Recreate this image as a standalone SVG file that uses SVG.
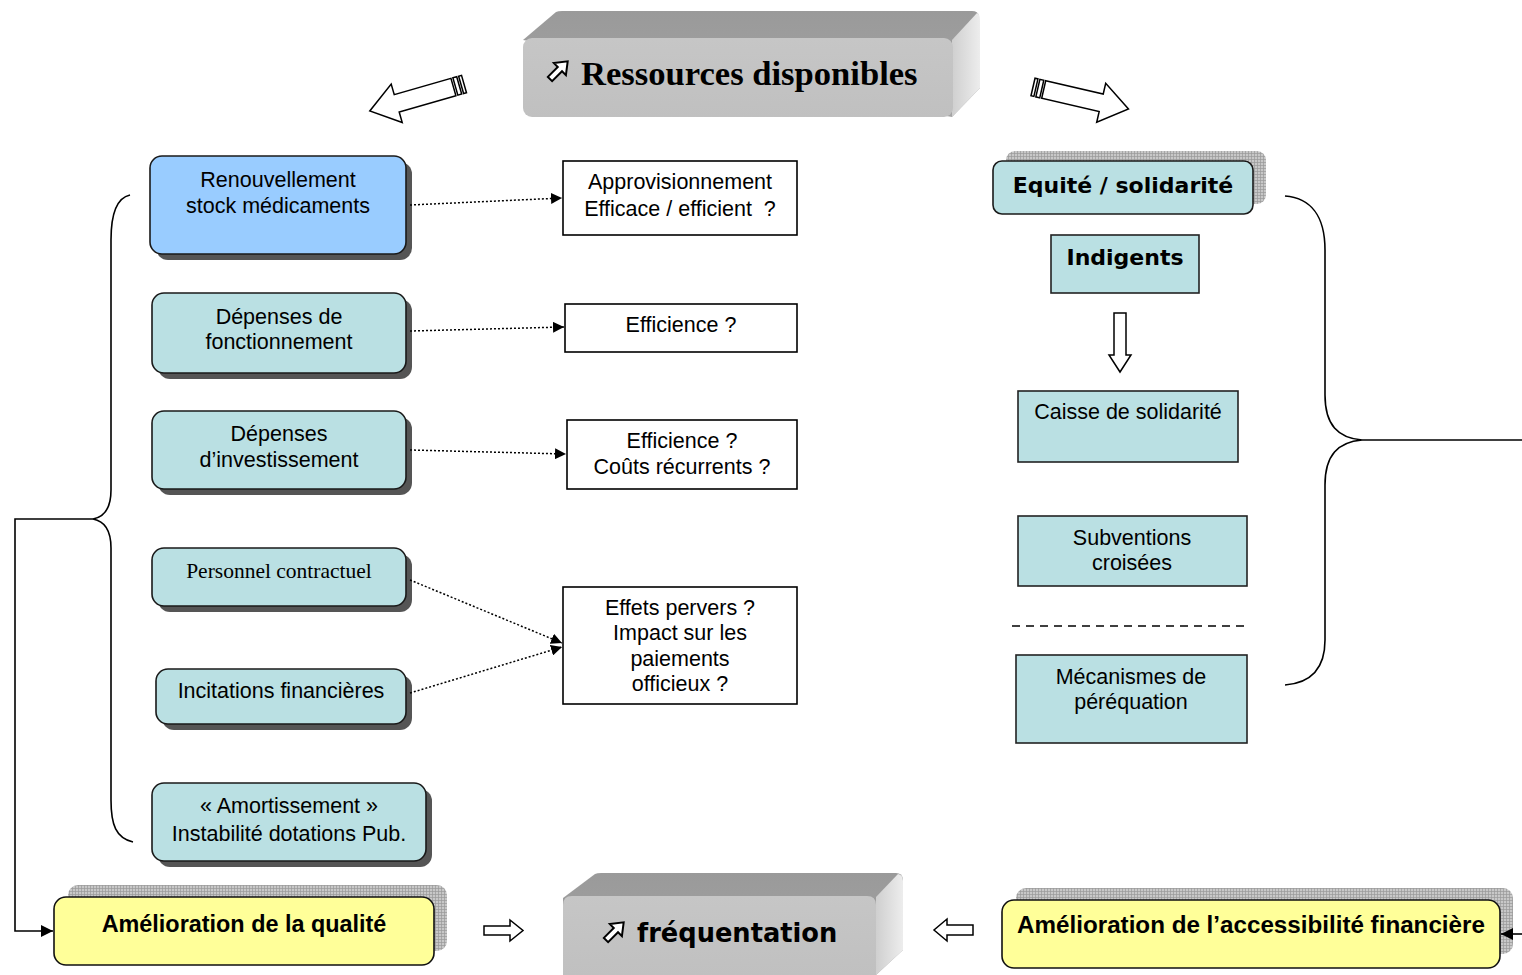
<svg xmlns="http://www.w3.org/2000/svg" width="1522" height="975" viewBox="0 0 1522 975">
<style>
.t{font-family:"Liberation Sans",Arial,sans-serif;font-size:21.5px;text-anchor:middle;fill:#000}
.ts{font-family:"Liberation Serif","Times New Roman",serif;font-size:21.5px;text-anchor:middle;fill:#000}
.vb{font-family:"DejaVu Sans",Verdana,sans-serif;font-weight:bold;font-size:22px;text-anchor:middle;fill:#000}
.ab{font-family:"Liberation Sans",Arial,sans-serif;font-weight:bold;font-size:23.4px;text-anchor:middle;fill:#000}
.teal{fill:#bae0e3;stroke:#1a1a1a;stroke-width:1.6}
.sq{fill:#bae0e3;stroke:#222;stroke-width:1.6}
.wb{fill:#fff;stroke:#000;stroke-width:1.6}
.shadow{fill:#555}
.yel{fill:#ffff99;stroke:#111;stroke-width:1.6}
.grid{fill:url(#gridp)}
.dot{fill:none;stroke:#000;stroke-width:1.5;stroke-dasharray:2,2;marker-end:url(#tri)}
.line{fill:none;stroke:#000;stroke-width:1.6}
.blk{fill:#fff;stroke:#000;stroke-width:1.5;stroke-linejoin:miter}
</style>
<defs>
<marker id="tri" viewBox="0 0 10 10" refX="10" refY="5" markerWidth="11" markerHeight="11" markerUnits="userSpaceOnUse" orient="auto">
<path d="M0,0 L10,5 L0,10 Z" fill="#000"/>
</marker>
<marker id="tri2" viewBox="0 0 10 10" refX="10" refY="5" markerWidth="12" markerHeight="12" markerUnits="userSpaceOnUse" orient="auto">
<path d="M0,0 L10,5 L0,10 Z" fill="#000"/>
</marker>
<pattern id="gridp" width="3" height="3" patternUnits="userSpaceOnUse">
<rect width="3" height="3" fill="#c8c8c8"/>
<path d="M0,0.5 H3 M0.5,0 V3" stroke="#9a9a9a" stroke-width="0.7"/>
</pattern>
<linearGradient id="topG" x1="0" y1="0" x2="0" y2="1">
<stop offset="0" stop-color="#9a9a9a"/><stop offset="1" stop-color="#a4a4a4"/>
</linearGradient>
<linearGradient id="frontG" x1="0" y1="0" x2="0" y2="1">
<stop offset="0" stop-color="#c6c6c6"/><stop offset="1" stop-color="#c0c0c0"/>
</linearGradient>
<linearGradient id="sideG" x1="0" y1="0" x2="1" y2="0">
<stop offset="0" stop-color="#cfcfcf"/><stop offset="1" stop-color="#ededed"/>
</linearGradient>
<g id="bigArrow">
<rect x="0" y="-9" width="3" height="18" class="blk"/>
<rect x="5" y="-9" width="4" height="18" class="blk"/>
<path d="M11,-9 L70,-9 L70,-20 L98,0 L70,20 L70,9 L11,9 Z" class="blk"/>
</g>
<g id="icon">
<path d="M0,-3 L14,-3 L14,-8.5 L25,0 L14,8.5 L14,3 L0,3 Z" fill="#fff" stroke="#000" stroke-width="2"/>
</g>
</defs>

<!-- Title 3D box -->
<g id="ressources">
<path d="M523,40 L556,12 Q558,11 562,11 L972,11 Q978,11 979,16 L980,88 L952,117 Z" fill="url(#topG)"/>
<path d="M952,40 L977,13 Q980,14 980,20 L980,88 L952,117 Z" fill="url(#sideG)"/>
<rect x="523" y="38" width="430" height="79" rx="9" fill="url(#frontG)"/>
<use href="#icon" transform="translate(550,79) rotate(-45)"/>
<text x="581" y="85" font-family="'Liberation Serif','Times New Roman',serif" font-weight="bold" font-size="34.6" fill="#000">Ressources disponibles</text>
</g>

<!-- big striped arrows -->
<g id="arrowLeft"><use href="#bigArrow" transform="translate(464,84) rotate(164)"/></g>
<g id="arrowRight"><use href="#bigArrow" transform="translate(1033,87) rotate(13)"/></g>

<!-- Left column -->
<g id="renouvellement">
<rect x="156" y="162" width="256" height="98" rx="12" class="shadow"/>
<rect x="150" y="156" width="256" height="98" rx="12" fill="#99ccff" stroke="#1a1a1a" stroke-width="1.6"/>
<text class="t" x="278" y="187">Renouvellement</text>
<text class="t" x="278" y="213">stock médicaments</text>
</g>
<g id="fonctionnement">
<rect x="158" y="299" width="254" height="80" rx="12" class="shadow"/>
<rect x="152" y="293" width="254" height="80" rx="12" class="teal"/>
<text class="t" x="279" y="324">Dépenses de</text>
<text class="t" x="279" y="349">fonctionnement</text>
</g>
<g id="investissement">
<rect x="158" y="417" width="254" height="78" rx="12" class="shadow"/>
<rect x="152" y="411" width="254" height="78" rx="12" class="teal"/>
<text class="t" x="279" y="441">Dépenses</text>
<text class="t" x="279" y="467">d’investissement</text>
</g>
<g id="personnel">
<rect x="158" y="554" width="254" height="58" rx="12" class="shadow"/>
<rect x="152" y="548" width="254" height="58" rx="12" class="teal"/>
<text class="ts" x="279" y="578">Personnel contractuel</text>
</g>
<g id="incitations">
<rect x="162" y="675" width="250" height="55" rx="12" class="shadow"/>
<rect x="156" y="669" width="250" height="55" rx="12" class="teal"/>
<text class="t" x="281" y="698">Incitations financières</text>
</g>
<g id="amortissement">
<rect x="158" y="789" width="274" height="78" rx="12" class="shadow"/>
<rect x="152" y="783" width="274" height="78" rx="12" class="teal"/>
<text class="t" x="289" y="813">« Amortissement »</text>
<text class="t" x="289" y="841">Instabilité dotations Pub.</text>
</g>

<!-- Middle column -->
<g id="approvisionnement">
<rect x="563" y="161" width="234" height="74" class="wb"/>
<text class="t" x="680" y="189">Approvisionnement</text>
<text class="t" x="680" y="216">Efficace / efficient &#160;?</text>
</g>
<g id="efficience1">
<rect x="565" y="304" width="232" height="48" class="wb"/>
<text class="t" x="681" y="332">Efficience ?</text>
</g>
<g id="efficience2">
<rect x="567" y="420" width="230" height="69" class="wb"/>
<text class="t" x="682" y="448">Efficience ?</text>
<text class="t" x="682" y="474">Coûts récurrents ?</text>
</g>
<g id="effets">
<rect x="563" y="587" width="234" height="117" class="wb"/>
<text class="t" x="680" y="615">Effets pervers ?</text>
<text class="t" x="680" y="640">Impact sur les</text>
<text class="t" x="680" y="666">paiements</text>
<text class="t" x="680" y="691">officieux ?</text>
</g>

<!-- Right column -->
<g id="equite">
<rect x="1006" y="151" width="260" height="53" rx="9" class="grid"/>
<rect x="993" y="161" width="260" height="53" rx="9" class="teal"/>
<text class="vb" x="1123" y="193">Equité / solidarité</text>
</g>
<g id="indigents">
<rect x="1051" y="235" width="148" height="58" class="sq"/>
<text class="vb" x="1125" y="265">Indigents</text>
</g>
<g id="downArrow">
<path d="M1114,313 L1126,313 L1126,355 L1131,355 L1120,372 L1109,355 L1114,355 Z" class="blk"/>
</g>
<g id="caisse">
<rect x="1018" y="391" width="220" height="71" class="sq"/>
<text class="t" x="1128" y="419">Caisse de solidarité</text>
</g>
<g id="subventions">
<rect x="1018" y="516" width="229" height="70" class="sq"/>
<text class="t" x="1132" y="545">Subventions</text>
<text class="t" x="1132" y="570">croisées</text>
</g>
<line x1="1012" y1="626" x2="1246" y2="626" stroke="#000" stroke-width="1.5" stroke-dasharray="8,6"/>
<g id="perequation">
<rect x="1016" y="655" width="231" height="88" class="sq"/>
<text class="t" x="1131" y="684">Mécanismes de</text>
<text class="t" x="1131" y="709">péréquation</text>
</g>

<!-- Bottom row -->
<g id="qualite">
<rect x="68" y="885" width="379" height="66" rx="10" class="grid"/>
<rect x="54" y="897" width="380" height="68" rx="12" class="yel"/>
<text class="ab" x="244" y="932">Amélioration de la qualité</text>
</g>
<g id="frequentation">
<path d="M563,898 L595,874 Q597,873 601,873 L896,873 Q902,873 903,879 L903,950 L876,975 L563,975 Z" fill="url(#topG)"/>
<path d="M876,897 L898,874 Q903,875 903,881 L903,950 L876,975 Z" fill="url(#sideG)"/>
<path d="M563,975 L563,905 Q563,896 572,896 L867,896 Q876,896 876,905 L876,975 Z" fill="url(#frontG)"/>
<use href="#icon" transform="translate(606,940) rotate(-45)"/>
<text x="637" y="942" font-family="'DejaVu Sans',Verdana,sans-serif" font-weight="bold" font-size="25.7" fill="#000">fréquentation</text>
</g>
<g id="accessibilite">
<rect x="1016" y="888" width="497" height="66" rx="10" class="grid"/>
<rect x="1002" y="900" width="498" height="68" rx="12" class="yel"/>
<text class="ab" x="1251" y="933" style="font-size:24.2px">Amélioration de l’accessibilité financière</text>
</g>
<g id="smallArrowR"><path d="M484,926 L510,926 L510,920 L523,930.5 L510,941 L510,935 L484,935 Z" class="blk"/></g>
<g id="smallArrowL"><path d="M973,925 L947,925 L947,919 L934,930 L947,941 L947,935 L973,935 Z" class="blk"/></g>

<!-- Connectors -->
<g id="connectors">
<path class="dot" d="M410,205 L562,198"/>
<path class="dot" d="M410,331 L564,327"/>
<path class="dot" d="M410,450 L566,454"/>
<path class="dot" d="M410,580 L562,643"/>
<path class="dot" d="M410,693 L562,647"/>
<path class="line" d="M130,195 C116,198 111,215 111,240 L111,490 C111,508 104,517 93,519 C104,521 111,530 111,548 L111,800 C111,825 116,838 133,842"/>
<path class="line" d="M93,519 L15,519 L15,931 L53,931" marker-end="url(#tri2)"/>
<path class="line" d="M1285,196 C1310,198 1325,215 1325,250 L1325,395 C1325,425 1338,438 1362,440 C1338,442 1325,455 1325,485 L1325,640 C1325,670 1310,683 1285,685"/>
<path class="line" d="M1362,440 L1522,440"/>
<path class="line" d="M1522,934 L1501,934" marker-end="url(#tri2)"/>
</g>
</svg>
